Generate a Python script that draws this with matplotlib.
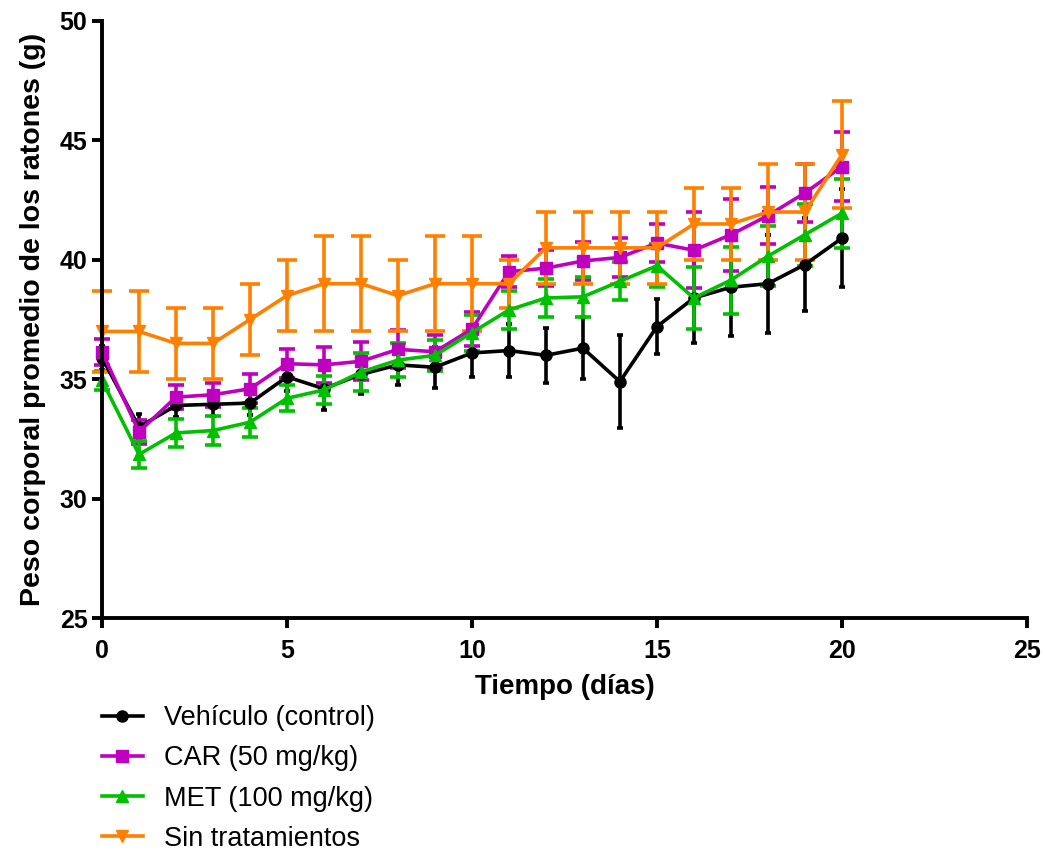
import numpy as np
import matplotlib
matplotlib.use("Agg")
from matplotlib import pyplot as plt

plt.rcParams['font.family'] = ['Liberation Sans', 'DejaVu Sans']

dias = np.arange(0, 21)

vehiculo = [35.9, 33.0, 33.9, 33.95, 34.0, 35.1, 34.6, 35.2, 35.6, 35.5, 36.1,
            36.2, 36.0, 36.3, 34.9, 37.2, 38.4, 38.85, 39.0, 39.8, 40.9]
vehiculo_err = [0.5, 0.55, 0.5, 0.5, 0.5, 0.6, 0.9, 0.8, 0.85, 0.85, 1.0,
                1.1, 1.15, 1.3, 1.95, 1.15, 1.9, 2.05, 2.05, 1.95, 2.05]

car = [36.15, 32.8, 34.25, 34.35, 34.6, 35.65, 35.6, 35.75, 36.25, 36.15, 37.1,
       39.5, 39.65, 39.95, 40.1, 40.7, 40.4, 41.05, 41.85, 42.8, 43.9]
car_err = [0.55, 0.5, 0.5, 0.5, 0.6, 0.6, 0.75, 0.8, 0.8, 0.7, 0.7,
           0.65, 0.75, 0.8, 0.8, 0.8, 1.6, 1.5, 1.2, 1.2, 1.45]

met = [34.95, 31.85, 32.75, 32.85, 33.2, 34.2, 34.55, 35.3, 35.8, 36.0, 36.95,
       37.9, 38.4, 38.45, 39.1, 39.75, 38.4, 39.15, 40.15, 41.05, 41.95]
met_err = [0.4, 0.55, 0.6, 0.6, 0.6, 0.55, 0.6, 0.8, 0.7, 0.65, 0.75,
           0.8, 0.8, 0.85, 0.8, 0.9, 1.3, 1.4, 1.25, 1.3, 1.45]

sin_trat = [37.0, 37.0, 36.5, 36.5, 37.5, 38.5, 39.0, 39.0, 38.5, 39.0, 39.0,
            39.0, 40.5, 40.5, 40.5, 40.5, 41.5, 41.5, 42.0, 42.0, 44.4]
sin_trat_err = [1.7, 1.7, 1.5, 1.5, 1.5, 1.5, 2.0, 2.0, 1.5, 2.0, 2.0,
                1.0, 1.5, 1.5, 1.5, 1.5, 1.5, 1.5, 2.0, 2.0, 2.25]

series = [
    (vehiculo, vehiculo_err, "Vehículo (control)", "black", "o", 2),
    (car, car_err, "CAR (50 mg/kg)", "#C000C0", "s", 6),
    (met, met_err, "MET (100 mg/kg)", "#00C000", "^", 6),
    (sin_trat, sin_trat_err, "Sin tratamientos", "#FF8000", "v", 7),
]

fig = plt.figure(figsize=(10.45, 8.56), dpi=100)
ax = fig.add_axes([0.0976, 0.278, 0.885, 0.6975])

handles = []
for vals, err, lab, col, mk, cap in series:
    h = ax.errorbar(dias, vals, yerr=err, color=col, marker=mk, markersize=8,
                    linewidth=2.6, elinewidth=2.6, capsize=cap, capthick=2.6,
                    label=lab, clip_on=False)
    handles.append(h)

ax.set_xlim(0, 25)
ax.set_ylim(25, 50)
ax.set_xticks([0, 5, 10, 15, 20, 25])
ax.set_yticks([25, 30, 35, 40, 45, 50])

for s in ["top", "right"]:
    ax.spines[s].set_visible(False)
for s in ["left", "bottom"]:
    ax.spines[s].set_linewidth(2.8)

ax.tick_params(width=2.8, length=7, labelsize=18, direction="out")
ax.tick_params(axis="x", pad=8)
for lbl in ax.get_xticklabels() + ax.get_yticklabels():
    lbl.set_fontweight("bold")

ax.set_xlabel("Tiempo (días)", fontsize=20, fontweight="bold", labelpad=8)
ax.set_ylabel("Peso corporal promedio de los ratones (g)", fontsize=20.5,
              fontweight="bold", labelpad=10)

lines = [h[0] for h in handles]
fig.legend(lines, [s[2] for s in series], loc="upper left",
           bbox_to_anchor=(0.0976, 0.176), frameon=False, fontsize=19.5,
           handlelength=1.5, handletextpad=0.8, labelspacing=0.52,
           borderpad=0, borderaxespad=0)

fig.savefig("out.png", dpi=100)
